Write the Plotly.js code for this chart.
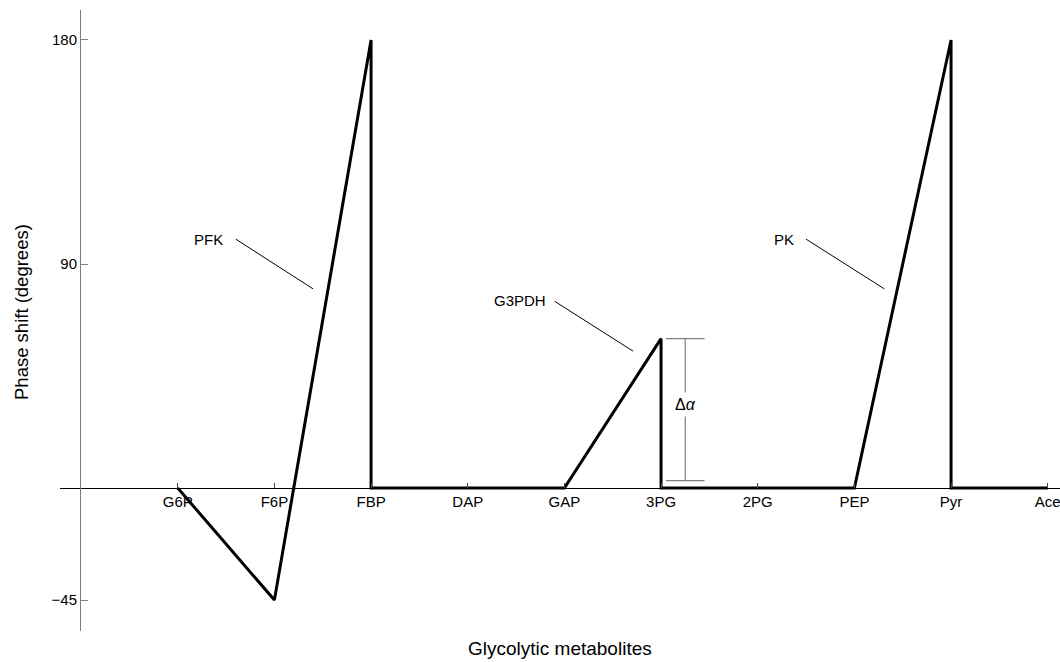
<!DOCTYPE html>
<html>
<head>
<meta charset="utf-8">
<script src="https://cdn.plot.ly/plotly-3.0.1.min.js"></script>
<style>
  html, body { margin: 0; padding: 0; background: #ffffff; }
  #chart { width: 1060px; height: 662px; }
</style>
</head>
<body>
<div id="chart"></div>
<script>
// Glycolytic metabolites along the pathway (x-axis categories)
const metabolites = ['G6P', 'F6P', 'FBP', 'DAP', 'GAP', '3PG', '2PG', 'PEP', 'Pyr', 'Ace'];

// Phase-shift profile: visited metabolites and phase (degrees) at each vertex
const pathMetabolites = ['G6P', 'F6P', 'FBP', 'FBP', 'DAP', 'GAP', '3PG', '3PG', '2PG', 'PEP', 'Pyr', 'Pyr', 'Ace'];
const pathPhase       = [0,     -45,   180,   0,     0,     0,     60,    0,     0,     0,     180,   0,     0];

// Y-axis ticks
const phaseTicks = [-45, 90, 180];

// Enzyme labels with leader lines (label anchor, then line start/end in data units)
const enzymeNames  = ['PFK', 'G3PDH', 'PK'];
const enzymeLabelX = [0.49, 3.83, 6.40];
const enzymeLabelY = [100, 75.5, 100];
const leaderX0 = [0.60, 3.90, 6.50];
const leaderY0 = [100, 75, 100];
const leaderX1 = [1.40, 4.71, 7.31];
const leaderY1 = [80, 55, 80];

// Δα bracket for the G3PDH step
const bracketX = 5.25;
const bracketHalfWidth = 0.2;
const bracketLow = 3;
const bracketHigh = 60;

const xRange = [-1.218, 9.127];
const yRange = [-57.45, 192.05];

const idx = m => metabolites.indexOf(m);

const traces = [{
  type: 'scatter',
  mode: 'lines',
  x: pathMetabolites.map(idx),
  y: pathPhase,
  line: { color: '#000000', width: 3, shape: 'linear' },
  hoverinfo: 'skip',
  showlegend: false,
  cliponaxis: false
}];

const shapes = [];
enzymeNames.forEach((n, i) => {
  shapes.push({
    type: 'line', xref: 'x', yref: 'y',
    x0: leaderX0[i], y0: leaderY0[i], x1: leaderX1[i], y1: leaderY1[i],
    line: { color: '#000000', width: 1 }
  });
});
// bracket: vertical bar + caps
const gray = '#7f7f7f';
shapes.push({ type: 'line', xref: 'x', yref: 'y', x0: bracketX, x1: bracketX, y0: bracketLow, y1: bracketHigh, line: { color: gray, width: 1.2 } });
shapes.push({ type: 'line', xref: 'x', yref: 'y', x0: bracketX - bracketHalfWidth, x1: bracketX + bracketHalfWidth, y0: bracketLow, y1: bracketLow, line: { color: gray, width: 1.2 } });
shapes.push({ type: 'line', xref: 'x', yref: 'y', x0: bracketX - bracketHalfWidth, x1: bracketX + bracketHalfWidth, y0: bracketHigh, y1: bracketHigh, line: { color: gray, width: 1.2 } });

const font = 'Liberation Sans, Arial, sans-serif';
const textColor = '#000000';

const annotations = enzymeNames.map((n, i) => ({
  x: enzymeLabelX[i], y: enzymeLabelY[i], xref: 'x', yref: 'y',
  text: n, showarrow: false, xanchor: 'right', yanchor: 'middle',
  font: { family: font, size: 15, color: textColor }
}));
annotations.push({
  x: bracketX, y: (bracketLow + bracketHigh) / 2 + 2, xref: 'x', yref: 'y',
  text: 'Δ<i>α</i>', showarrow: false, bgcolor: '#ffffff', borderpad: 3,
  font: { family: font, size: 16, color: textColor }
});
// axis titles
annotations.push({
  x: 0.5, y: -18 / 621, xref: 'paper', yref: 'paper',
  text: 'Glycolytic metabolites', showarrow: false, xanchor: 'center', yanchor: 'middle',
  font: { family: font, size: 19, color: textColor }
});
annotations.push({
  x: -39 / 1000, y: (631 - 312) / 621, xref: 'paper', yref: 'paper',
  text: 'Phase shift (degrees)', showarrow: false, textangle: -90,
  xanchor: 'center', yanchor: 'middle',
  font: { family: font, size: 18.5, color: textColor }
});

const layout = {
  width: 1060, height: 662,
  margin: { l: 60, r: 0, t: 10, b: 31, pad: 0 },
  paper_bgcolor: '#ffffff', plot_bgcolor: '#ffffff',
  showlegend: false,
  xaxis: {
    range: xRange,
    anchor: 'free', position: 143 / 621,
    tickvals: metabolites.map(idx), ticktext: metabolites,
    ticks: 'inside', ticklen: 5, tickcolor: '#444444', tickwidth: 1,
    ticklabeloverflow: 'allow',
    showline: true, linecolor: '#000000', linewidth: 1,
    showgrid: false, zeroline: false,
    tickfont: { family: font, size: 15, color: textColor }
  },
  yaxis: {
    range: yRange,
    anchor: 'free', position: 20 / 1000,
    tickvals: phaseTicks,
    ticks: 'inside', ticklen: 7, tickcolor: gray, tickwidth: 1,
    showline: true, linecolor: gray, linewidth: 1,
    showgrid: false, zeroline: false,
    tickfont: { family: font, size: 15, color: textColor }
  },
  shapes: shapes,
  annotations: annotations
};

Plotly.newPlot('chart', traces, layout, { displayModeBar: false, staticPlot: true });
</script>
</body>
</html>
